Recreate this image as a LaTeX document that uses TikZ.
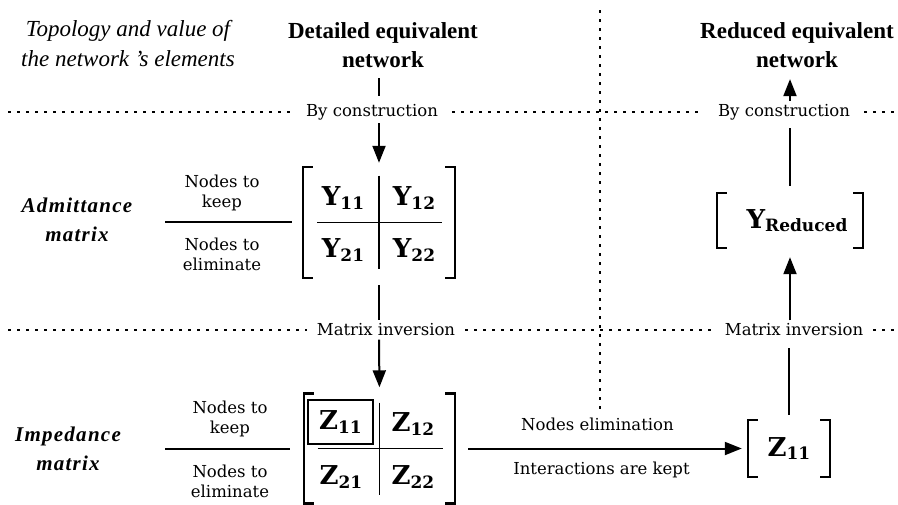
\documentclass[tikz,border=0pt]{standalone}
\usepackage{fontspec}
\setmainfont{Liberation Serif}
\newfontfamily\centfont{DejaVu Serif}
\usetikzlibrary{arrows.meta}
\newcommand\ent[2]{#1\raisebox{-0.25ex}{\fontsize{17}{17}\selectfont #2}}
\tikzset{
  conn/.style={line width=2pt},
  arr/.style={conn,-{Triangle[length=17pt,width=13pt]}},
  dots/.style={line width=1.6pt,dash pattern=on 3pt off 6pt},
  brk/.style={line width=2.5pt},
  grid/.style={line width=1.5pt},
  ttl/.style={font=\fontsize{23}{29}\selectfont\bfseries,align=center},
  side/.style={font=\fontsize{21}{29}\selectfont\bfseries\itshape\addfontfeature{LetterSpace=6},align=center},
  lbl/.style={font=\centfont\fontsize{16.5}{20}\selectfont,align=center},
  sep/.style={lbl,inner xsep=10pt},
  ent/.style={font=\centfont\bfseries\fontsize{26}{26}\selectfont},
  matbox/.style={ent,inner sep=0pt},
}
\begin{document}
\begin{tikzpicture}[x=1pt,y=-1pt]
\useasboundingbox (0,0) rectangle (898,504);

% titles
\node[font=\fontsize{23}{30}\selectfont\itshape,align=center] (topo) at (128,44) {Topology and value of\\the network 's elements};
\node[ttl] (detail) at (383,45) {Detailed equivalent\\network};
\node[ttl] (reduced) at (797,45) {Reduced equivalent\\network};

% steps
\node[sep,inner xsep=14pt] (bycons1) at (372,112) {By construction};
\node[sep,inner xsep=14pt] (bycons2) at (784,112) {By construction};
\node[sep] (matinv1) at (386,330) {Matrix inversion};
\node[sep] (matinv2) at (794,330) {Matrix inversion};
\draw[dots] (8,112) -- (bycons1.west);
\draw[dots] (bycons1.east) -- (bycons2.west);
\draw[dots] (bycons2.east) -- (896,112);
\draw[dots] (8,330) -- (matinv1.west);
\draw[dots] (matinv1.east) -- (matinv2.west);
\draw[dots] (matinv2.east) -- (896,330);
\draw[dots] (600,10) -- (600,412);

% row names
\node[side] (adm) at (77,220) {Admittance\\matrix};
\node[side] (imp) at (68,449) {Impedance\\matrix};

% matrices
\node[matbox,minimum width=152pt,minimum height=111pt] (ymat) at (379,222.5) {};
\node[matbox,minimum width=151pt,minimum height=110pt] (zmat) at (379.5,448.5) {};
\node[matbox,minimum width=146pt,minimum height=55pt] (yred) at (790,220.5) {\hspace*{14pt}\ent{Y}{Reduced}};
\node[matbox,minimum width=82pt,minimum height=57pt] (zred) at (789,448.5) {\ent{Z}{11}};
\foreach \m in {ymat,zmat,yred,zred}{
  \draw[brk] ([xshift=10pt]\m.north west) -- (\m.north west) -- (\m.south west) -- ([xshift=10pt]\m.south west);
  \draw[brk] ([xshift=-10pt]\m.north east) -- (\m.north east) -- (\m.south east) -- ([xshift=-10pt]\m.south east);
}

\node[ent] (y11) at (343,198) {\ent{Y}{11}};
\node[ent] (y12) at (414,198) {\ent{Y}{12}};
\node[ent] (y21) at (343,250) {\ent{Y}{21}};
\node[ent] (y22) at (414,250) {\ent{Y}{22}};
\draw[grid] ([yshift=47pt]ymat.center) -- ([yshift=-46pt]ymat.center);
\draw[grid] ([xshift=-62pt]ymat.center) -- ([xshift=63pt]ymat.center);

\node[ent,draw,line width=2pt,minimum width=65pt,minimum height=44pt] (z11) at (340.5,422) {\ent{Z}{11}};
\node[ent] (z12) at (413,424) {\ent{Z}{12}};
\node[ent] (z21) at (341,477) {\ent{Z}{21}};
\node[ent] (z22) at (413,477) {\ent{Z}{22}};
\draw[grid] ([yshift=46pt]zmat.center) -- ([yshift=-46pt]zmat.center);
\draw[grid] ([xshift=-62pt]zmat.center) -- ([xshift=63pt]zmat.center);

% keep / eliminate
\node[lbl] (ykeep) at (222,193) {Nodes to\\keep};
\node[lbl] (yelim) at (222,254) {Nodes to\\eliminate};
\draw[conn] (165,222) -- (292,222);
\node[lbl] (zkeep) at (230,419) {Nodes to\\keep};
\node[lbl] (zelim) at (230,481) {Nodes to\\eliminate};
\draw[conn] (165,449) -- (290,449);

% connectors
\draw[conn,shorten <=7pt,shorten >=5pt] (detail.south -| ymat) -- (bycons1.north -| ymat);
\draw[arr,shorten >=4pt] (bycons1.south -| ymat) -- (ymat.north);
\draw[conn,shorten <=7pt] (ymat.south) -- (matinv1.north -| ymat);
\draw[arr,shorten >=6pt] (matinv1.south -| ymat) -- (zmat.north);
\draw[arr,shorten <=13pt,shorten >=6pt] (zmat.east) -- (zred.west)
  node[lbl,midway,above=13pt,xshift=-4pt] (elim) {Nodes elimination}
  node[lbl,midway,below=9pt] (kept) {Interactions are kept};
\draw[conn,shorten <=5pt,shorten >=8pt] (zred.north) -- (matinv2.south -| zred);
\draw[arr,shorten >=9pt] (matinv2.north -| yred) -- (yred.south);
\draw[conn,shorten <=7pt,shorten >=5pt] (yred.north) -- (bycons2.south -| yred);
\draw[arr,shorten >=8pt] (bycons2.north -| yred) -- (reduced.south -| yred);
\end{tikzpicture}
\end{document}
